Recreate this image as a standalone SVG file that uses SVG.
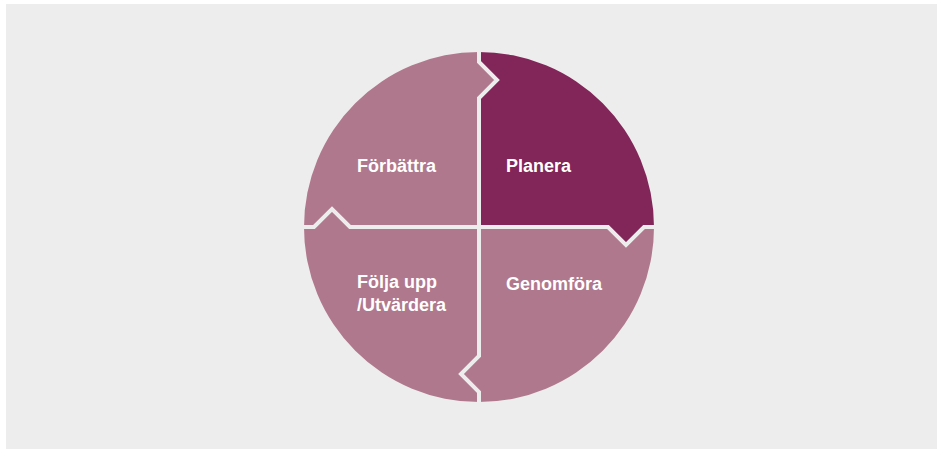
<svg xmlns="http://www.w3.org/2000/svg" width="939" height="451" viewBox="0 0 939 451">
  <style>
    .light { fill: #b0788d; }
    .dark { fill: #82265a; }
    .lbl { font-family: "Liberation Sans", Arial, sans-serif; font-size: 18px; font-weight: bold; fill: #ffffff; }
    .gap { fill: none; stroke: #ededed; stroke-width: 4; stroke-linejoin: miter; }
  </style>
  <rect x="0" y="0" width="939" height="451" fill="#ffffff"/>
  <rect x="6" y="4" width="931" height="445" fill="#ededed"/>
  <g id="node-forbattra">
    <path class="light" d="M479,52 A175,175 0 0 0 304,227 H314 L332,209 L350,227 H479 V98 L497,80 L479,62 Z"/>
    <text class="lbl" x="357" y="172">Förbättra</text>
  </g>
  <g id="node-planera">
    <path class="dark" d="M479,52 V62 L497,80 L479,98 V227 H608 L626,245 L644,227 H654 A175,175 0 0 0 479,52 Z"/>
    <text class="lbl" x="506" y="172">Planera</text>
  </g>
  <g id="node-genomfora">
    <path class="light" d="M479,402 A175,175 0 0 0 654,227 H644 L626,245 L608,227 H479 V356 L461,374 L479,392 Z"/>
    <text class="lbl" x="506" y="290">Genomföra</text>
  </g>
  <g id="node-folja-upp">
    <path class="light" d="M304,227 A175,175 0 0 0 479,402 V392 L461,374 L479,356 V227 H350 L332,209 L314,227 Z"/>
    <text class="lbl" x="357" y="288">Följa upp</text>
    <text class="lbl" x="357" y="311">/Utvärdera</text>
  </g>
  <g id="connectors">
    <path class="gap" d="M479,40 V62 L497,80 L479,98 V356 L461,374 L479,392 V414"/>
    <path class="gap" d="M292,227 H314 L332,209 L350,227 H608 L626,245 L644,227 H666"/>
  </g>
</svg>
